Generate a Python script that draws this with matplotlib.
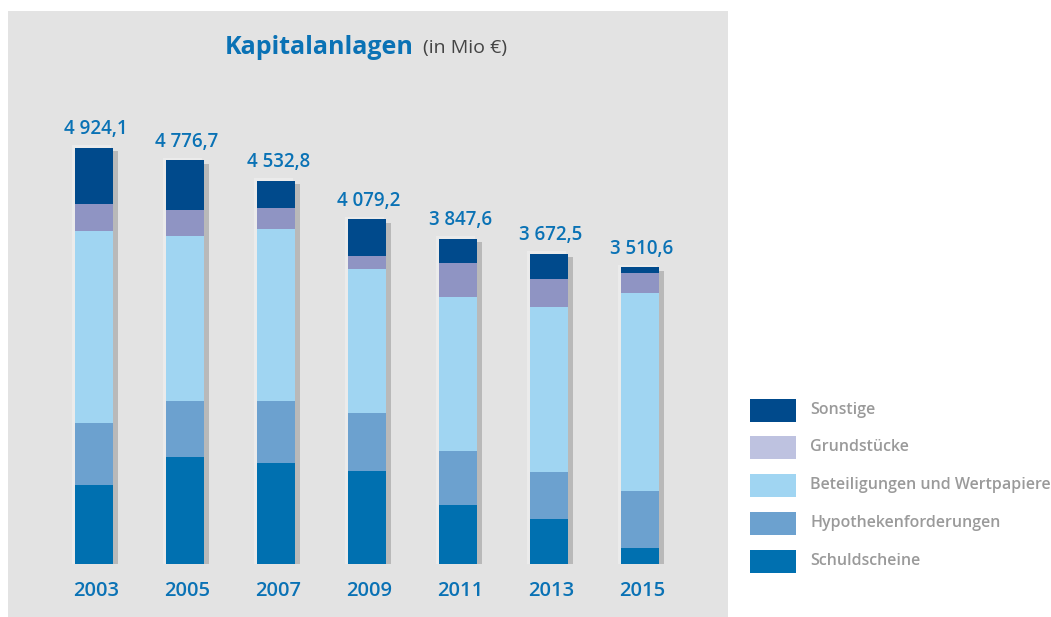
import matplotlib
matplotlib.use("Agg")
import matplotlib.pyplot as plt
from matplotlib.patches import Rectangle
import numpy as np

# data (Mio EUR)
years = ["2003", "2005", "2007", "2009", "2011", "2013", "2015"]
totals = [4924.1, 4776.7, 4532.8, 4079.2, 3847.6, 3672.5, 3510.6]
schuldscheine = [935, 1262, 1195, 1100, 698, 533, 189]
hypotheken = [734, 663, 734, 686, 639, 556, 675]
beteiligungen = [2272, 1952, 2035, 1702, 1824, 1956, 2339]
grundstuecke = [320, 308, 249, 154, 402, 331, 237]
sonstige = [663, 592, 320, 437, 285, 297, 71]

names = ["Sonstige", "Grundstücke", "Beteiligungen und Wertpapiere",
         "Hypothekenforderungen", "Schuldscheine"]
bar_colors = ["#004a8c", "#8f94c3", "#a0d5f2", "#6ca1cf", "#0070b0"]
legend_colors = ["#004a8c", "#bec2e0", "#a0d5f2", "#6ca1cf", "#0070b0"]

blue = "#0a72b5"
W, H = 1051, 617

plt.rcParams["font.family"] = ["Open Sans", "DejaVu Sans"]
fig = plt.figure(figsize=(W / 100, H / 100), dpi=100)

# grey panel behind the chart
fig.patches.append(Rectangle((8 / W, 0), 720 / W, 606 / H, transform=fig.transFigure,
                             facecolor="#e3e3e3", edgecolor="none", zorder=-5))

ax = fig.add_axes([48.5 / W, 53 / H, 637 / W, 464 / H])
ax.set_facecolor("none")
ax.set_xlim(-0.5, 6.5)
ax.set_ylim(0, 5491)
ax.axis("off")

x = np.arange(len(years))
width = 0.41
stack = [schuldscheine, hypotheken, beteiligungen, grundstuecke, sonstige]
stack_cols = bar_colors[::-1]

# shadow
tot = np.sum(stack, axis=0)
ax.bar(x + 0.06, tot, width, bottom=-40, color="#7a7a7a", alpha=0.4, zorder=1)
ax.bar(x - 0.025, tot + 50, width + 0.02, bottom=-20, color="#f2f2f2", alpha=0.6, zorder=1)

bottom = np.zeros(len(years))
for vals, c in zip(stack, stack_cols):
    ax.bar(x, vals, width, bottom=bottom, color=c, zorder=2)
    bottom += np.array(vals)

for i, t in enumerate(totals):
    lab = f"{t:,.1f}".replace(",", " ").replace(".", ",")
    ax.annotate(lab, (x[i], bottom[i]), xytext=(1.5, 13.5), textcoords="offset points",
                ha="center", va="center", color=blue, fontsize=13.5, fontweight="semibold")
    ax.annotate(years[i], (x[i], 0), xytext=(1.5, -19.5), textcoords="offset points",
                ha="center", va="center", color=blue, fontsize=14.5, fontweight="semibold")

# title
t1 = fig.text(225 / W, 1 - 47 / H, "Kapitalanlagen", color=blue, fontsize=18,
              fontweight="bold", ha="left", va="center")
fig.canvas.draw()
bb = t1.get_window_extent()
fig.text((bb.x1 + 9) / W, 1 - 48 / H, "(in Mio €)", color="#444444", fontsize=14,
         ha="left", va="center")

# legend
ys = [410, 447, 485, 523, 561]
for name, c, yy in zip(names, legend_colors, ys):
    fig.patches.append(Rectangle((750 / W, 1 - (yy + 11.5) / H), 46 / W, 23 / H,
                                 transform=fig.transFigure, facecolor=c, edgecolor="none"))
    fig.text(810 / W, 1 - yy / H, name, color="#9a9a9a", fontsize=11.5,
             fontweight="semibold", ha="left", va="center")

fig.savefig("out.png", dpi=100)
